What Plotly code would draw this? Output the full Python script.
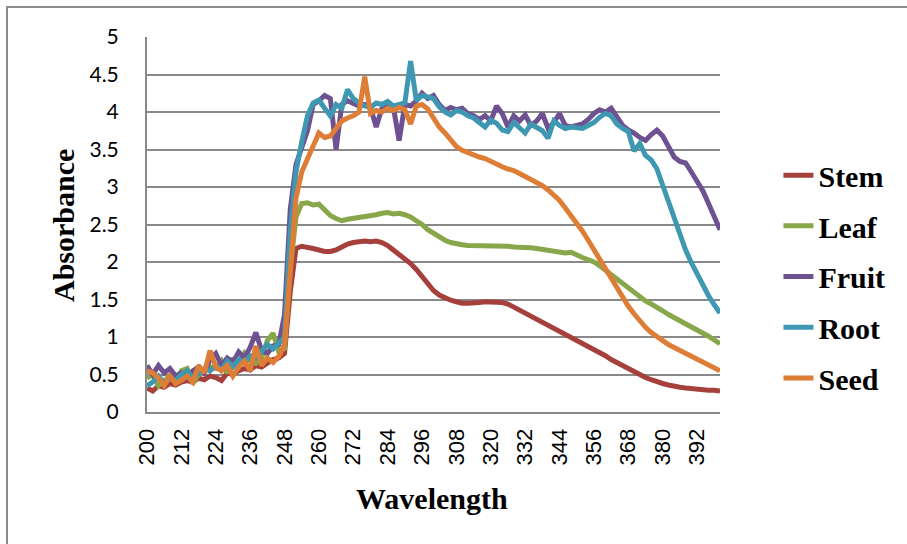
import plotly.graph_objects as go

# Wavelength grid (nm)
wavelength = list(range(200, 401, 2))

stem = [0.32, 0.28, 0.35, 0.33, 0.38, 0.36, 0.40, 0.42, 0.40, 0.45,
        0.43, 0.48, 0.46, 0.42, 0.52, 0.50, 0.55, 0.58, 0.56, 0.62,
        0.60, 0.66, 0.70, 0.72, 0.78, 1.60, 2.18, 2.21, 2.20, 2.18,
        2.16, 2.14, 2.14, 2.16, 2.20, 2.24, 2.26, 2.27, 2.28, 2.27,
        2.28, 2.26, 2.22, 2.16, 2.10, 2.05, 1.98, 1.90, 1.80, 1.70,
        1.62, 1.56, 1.52, 1.49, 1.47, 1.45, 1.45, 1.45, 1.46, 1.47,
        1.47, 1.47, 1.46, 1.44, 1.40, 1.36, 1.32, 1.28, 1.24, 1.20,
        1.16, 1.12, 1.08, 1.04, 1.00, 0.96, 0.92, 0.88, 0.84, 0.79,
        0.75, 0.70, 0.66, 0.62, 0.57, 0.53, 0.49, 0.46, 0.43, 0.40,
        0.38, 0.36, 0.34, 0.33, 0.32, 0.31, 0.30, 0.30, 0.29, 0.29,
        0.28]

leaf = [0.45, 0.50, 0.35, 0.42, 0.48, 0.40, 0.55, 0.58, 0.38, 0.50,
        0.55, 0.60, 0.58, 0.68, 0.52, 0.72, 0.62, 0.78, 0.68, 0.65,
        0.72, 0.95, 1.05, 0.80, 0.85, 1.90, 2.60, 2.78, 2.79, 2.76,
        2.77, 2.70, 2.62, 2.58, 2.55, 2.57, 2.58, 2.59, 2.61, 2.62,
        2.63, 2.65, 2.66, 2.64, 2.65, 2.63, 2.60, 2.55, 2.50, 2.43,
        2.38, 2.33, 2.29, 2.26, 2.24, 2.23, 2.22, 2.22, 2.22, 2.22,
        2.22, 2.22, 2.21, 2.21, 2.20, 2.20, 2.19, 2.19, 2.18, 2.17,
        2.16, 2.15, 2.13, 2.12, 2.13, 2.09, 2.06, 2.03, 2.00, 1.95,
        1.89, 1.83, 1.76, 1.70, 1.64, 1.58, 1.53, 1.48, 1.44, 1.40,
        1.35, 1.30, 1.26, 1.22, 1.18, 1.14, 1.10, 1.06, 1.01, 0.96,
        0.91]

fruit = [0.62, 0.50, 0.62, 0.52, 0.58, 0.48, 0.52, 0.45, 0.55, 0.60,
         0.52, 0.70, 0.78, 0.62, 0.72, 0.66, 0.80, 0.72, 0.86, 1.06,
         0.82, 0.78, 0.88, 0.90, 1.30, 2.70, 3.30, 3.55, 3.75, 4.10,
         4.15, 4.22, 4.18, 3.50, 4.10, 4.15, 4.12, 4.08, 4.10, 4.06,
         3.80, 4.05, 4.10, 4.06, 3.62, 4.10, 4.08, 4.15, 4.25, 4.18,
         4.22, 4.10, 4.02, 4.06, 4.03, 4.05, 3.98, 3.95, 3.90, 3.95,
         3.88, 4.08, 3.98, 3.80, 3.95, 3.88, 3.96, 3.82, 3.88, 3.98,
         3.78, 3.86, 3.98, 3.82, 3.80, 3.82, 3.84, 3.90, 3.98, 4.03,
         4.00, 4.05, 3.92, 3.82, 3.76, 3.72, 3.66, 3.62, 3.70, 3.76,
         3.68, 3.55, 3.40, 3.34, 3.32, 3.20, 3.08, 2.95, 2.78, 2.60,
         2.43]

root = [0.35, 0.40, 0.48, 0.38, 0.45, 0.42, 0.50, 0.55, 0.45, 0.52,
        0.58, 0.55, 0.62, 0.56, 0.68, 0.60, 0.70, 0.66, 0.75, 0.72,
        0.82, 0.90, 0.84, 0.92, 1.00, 2.40, 3.20, 3.60, 3.95, 4.12,
        4.16, 4.05, 3.95, 4.10, 4.05, 4.30, 4.18, 4.12, 4.08, 4.06,
        4.12, 4.10, 4.14, 4.08, 4.10, 4.12, 4.68, 4.15, 4.22, 4.20,
        4.18, 4.07, 4.00, 3.96, 4.02, 4.00, 3.95, 3.92, 3.86, 3.80,
        3.89, 3.85, 3.76, 3.74, 3.86, 3.80, 3.72, 3.84, 3.80, 3.75,
        3.65, 3.88, 3.82, 3.78, 3.80, 3.79, 3.78, 3.82, 3.86, 3.93,
        3.98, 3.95, 3.84, 3.78, 3.74, 3.48, 3.58, 3.42, 3.36, 3.24,
        3.02, 2.78, 2.55, 2.36, 2.16, 1.99, 1.84, 1.68, 1.55, 1.43,
        1.32]

seed = [0.55, 0.52, 0.45, 0.35, 0.48, 0.38, 0.42, 0.48, 0.40, 0.62,
        0.52, 0.82, 0.60, 0.55, 0.62, 0.48, 0.60, 0.68, 0.55, 0.88,
        0.62, 0.72, 0.66, 0.74, 0.90, 1.90, 2.85, 3.20, 3.38, 3.55,
        3.72, 3.66, 3.68, 3.78, 3.88, 3.92, 3.95, 4.00, 4.47, 3.98,
        4.02, 4.00, 4.05, 4.02, 4.06, 4.03, 3.84, 4.08, 4.10, 4.04,
        3.92, 3.80, 3.72, 3.62, 3.54, 3.49, 3.46, 3.42, 3.40, 3.38,
        3.34, 3.30, 3.27, 3.24, 3.22, 3.18, 3.14, 3.10, 3.05, 3.02,
        2.96, 2.90, 2.82, 2.72, 2.62, 2.52, 2.41, 2.29, 2.16, 2.03,
        1.90, 1.80, 1.66, 1.53, 1.41, 1.31, 1.21, 1.13, 1.06, 1.00,
        0.95, 0.90, 0.86, 0.82, 0.78, 0.74, 0.71, 0.67, 0.63, 0.59,
        0.55]

series_names = ["Stem", "Leaf", "Fruit", "Root", "Seed"]
series_values = [stem, leaf, fruit, root, seed]
series_colors = ["#A6403D", "#88A64A", "#6D5191", "#3E98B2", "#DE7E36"]

x_tick_values = list(range(200, 393, 12))
y_tick_values = [0, 0.5, 1, 1.5, 2, 2.5, 3, 3.5, 4, 4.5, 5]

fig = go.Figure()
for name, vals, col in zip(series_names, series_values, series_colors):
    fig.add_trace(go.Scatter(
        x=wavelength, y=vals, name=name, mode="lines",
        legendgroup=name,
        line=dict(color=col, width=5),
    ))

axis_gray = "#898989"

fig.update_layout(
    width=907, height=544,
    margin=dict(l=147, r=187, t=37, b=132),
    paper_bgcolor="white", plot_bgcolor="white",
    xaxis=dict(
        range=[200, 400], tickmode="array", tickvals=x_tick_values,
        tickangle=-90, ticks="", showgrid=False, zeroline=False,
        showline=True, linecolor=axis_gray, linewidth=2,
        tickfont=dict(family="Liberation Sans", size=22, color="black"),
        ticklabelstandoff=6,
    ),
    yaxis=dict(
        range=[0, 5], tickmode="array", tickvals=y_tick_values,
        ticks="", showgrid=True, gridcolor=axis_gray, gridwidth=2,
        zeroline=False, showline=True, linecolor=axis_gray, linewidth=2,
        tickfont=dict(family="Lato", size=21, color="black"),
        ticklabelstandoff=22,
    ),
    legend=dict(
        x=1.102, y=0.701, xanchor="left", yanchor="top",
        font=dict(family="Liberation Serif", size=30, color="black", weight="bold"),
        bgcolor="rgba(0,0,0,0)", tracegroupgap=8.7,
    ),
    showlegend=True,
)

# Axis titles
fig.add_annotation(
    text="Absorbance", xref="paper", yref="paper",
    x=(63 - 147) / 573, y=(412 - 226) / 375, textangle=-90,
    showarrow=False, xanchor="center", yanchor="middle",
    font=dict(family="Liberation Serif", size=30, color="black", weight="bold"),
)
fig.add_annotation(
    text="Wavelength", xref="paper", yref="paper",
    x=(432 - 147) / 573, y=(412 - 498) / 375,
    showarrow=False, xanchor="center", yanchor="middle",
    font=dict(family="Liberation Serif", size=30, color="black", weight="bold"),
)

# Outer chart frame
fig.add_shape(
    type="rect", xref="paper", yref="paper",
    x0=(7 - 147) / 573, x1=(940 - 147) / 573,
    y0=(412 - 580) / 375, y1=(412 - 7) / 375,
    line=dict(color="#8C8C8C", width=2), fillcolor="rgba(0,0,0,0)",
    layer="below",
)

fig.write_html("out.html")
